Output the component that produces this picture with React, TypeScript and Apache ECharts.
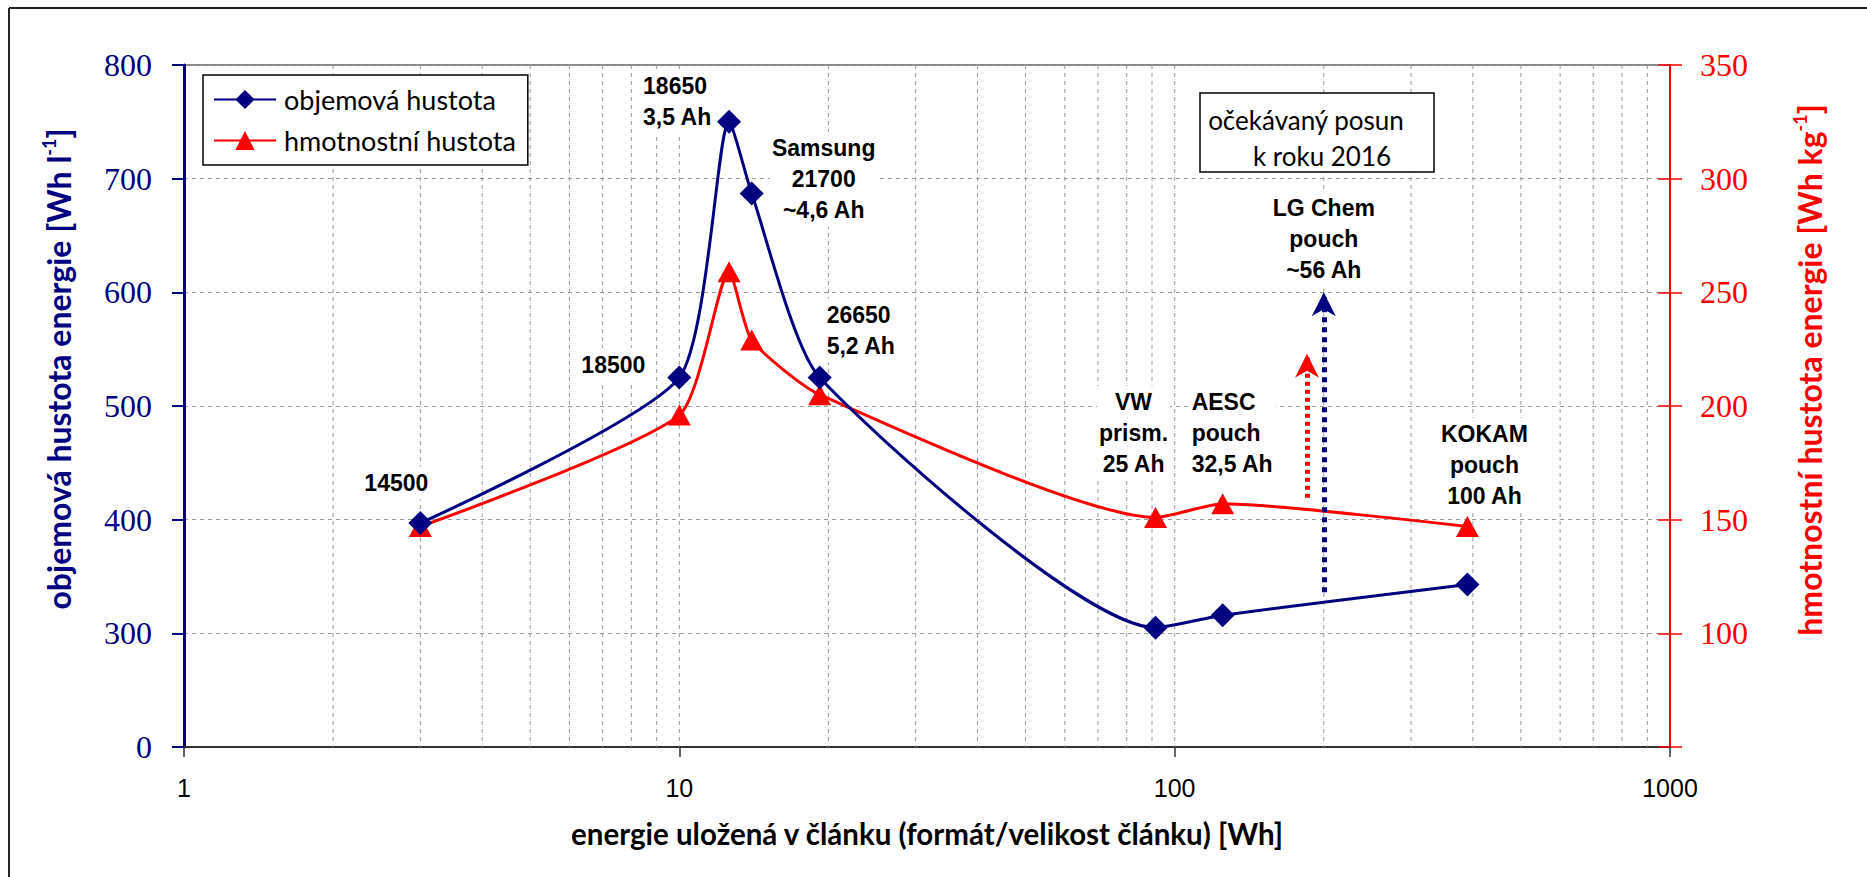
import React, { useEffect, useRef } from "react";
import * as echarts from "echarts";

// ---- data ----
const cellEnergyWh = [3, 10, 12.6, 14, 19.2, 91.5, 125, 390];
const volumetricWhL = [397, 525, 750, 687, 525, 305, 316, 343];
const gravimetricWhKg = [147, 196, 259, 229, 205, 151, 157, 147];
const cellNames = [
  "14500",
  "18500",
  "18650\n3,5 Ah",
  "Samsung\n21700\n~4,6 Ah",
  "26650\n5,2 Ah",
  "VW\nprism.\n25 Ah",
  "AESC\npouch\n32,5 Ah",
  "KOKAM\npouch\n100 Ah",
];
const seriesNames = ["objemová hustota", "hmotnostní hustota"];
const xTickLabels = [1, 10, 100, 1000];
const leftAxisRange = [200, 800]; // broken axis: bottom tick shown as "0"
const leftBreakLabel = "0";
const rightAxisRange = [50, 350];
const verticalGridX = [
  2, 3, 4, 5, 6, 7, 8, 9, 10, 20, 30, 40, 50, 60, 70, 80, 90, 100, 200, 300,
  400, 500, 600, 700, 800, 900,
];
const lgChemArrow = { x: 200, from: 336, to: 600, label: "LG Chem\npouch\n~56 Ah" };
const redArrow = { x: 185, from: 158, to: 223 };
const boxLines = ["očekávaný posun", "k roku 2016"];
const xTitle = "energie uložená v článku (formát/velikost článku) [Wh]";
const leftTitle = ["objemová hustota energie [Wh l", "-1", "]"];
const rightTitle = ["hmotnostní hustota energie [Wh kg", "-1", "]"];

// ---- styling ----
const NAVY = "#000080";
const RED = "#ff0000";
const ARROW_HEAD = "path://M12 0 L24 24 L12 17 L0 24 Z";
// per-point label placement: [dx, dy, align, series]
const labelPlacement: [number, number, string, "blue" | "red"][] = [
  [-24, -40, "center", "blue"],
  [-66, -13, "center", "blue"],
  [-88, -20, "left", "blue"],
  [72, -14, "center", "blue"],
  [5, -47, "left", "blue"],
  [-22, -84, "center", "red"],
  [-33, -71, "left", "red"],
  [17, -61, "center", "red"],
];
const labelFont = {
  color: "#000",
  fontFamily: "Liberation Sans",
  fontWeight: "bold" as const,
  fontSize: 23,
  lineHeight: 31,
  backgroundColor: "#fff",
  padding: [1, 2],
};

const titleRich = (fill: string) => ({
  a: { fontFamily: "Lato", fontWeight: "bold", fontSize: 32, fill, lineHeight: 34, verticalAlign: "bottom" },
  s: { fontFamily: "Lato", fontWeight: "bold", fontSize: 18, fill, lineHeight: 34, verticalAlign: "top" },
});

export default function App() {
  const ref = useRef<HTMLDivElement>(null);
  useEffect(() => {
    document.body.style.margin = "0";
    document.body.style.overflow = "hidden";
    const chart = echarts.init(ref.current!, null, { renderer: "svg" });

    const mkData = (vals: number[], which: "blue" | "red") =>
      cellEnergyWh.map((x, i) => {
        const p = labelPlacement[i];
        const item: any = { value: [x, vals[i]] };
        if (p[3] === which) {
          item.label = {
            show: true,
            position: "inside",
            offset: [p[0], p[1]],
            align: p[2],
            verticalAlign: "middle",
            formatter: cellNames[i],
            ...labelFont,
          };
        }
        return item;
      });

    const arrowParts = (
      a: { x: number; from: number; to: number },
      color: string,
      dash: number[],
      label?: string
    ) => ({
      markLine: {
        silent: true,
        symbol: ["none", "none"],
        lineStyle: { color, width: 5, type: dash, dashOffset: dash[0], cap: "butt" },
        label: { show: false },
        data: [[{ coord: [a.x, a.to] }, { coord: [a.x, a.from] }]],
      },
      markPoint: {
        silent: true,
        symbol: ARROW_HEAD,
        symbolSize: [24, 24],
        symbolOffset: [0, 12],
        itemStyle: { color },
        label: label
          ? { show: true, position: "top", distance: 6, formatter: label, ...labelFont }
          : { show: false },
        data: [{ coord: [a.x, a.to] }],
      },
    });

    const option: any = {
      animation: false,
      backgroundColor: "#fff",
      grid: {
        left: 184,
        top: 65,
        width: 1486,
        height: 682,
        show: true,
        borderColor: "#8a8a8a",
        borderWidth: 2,
        backgroundColor: "transparent",
      },
      legend: {
        data: seriesNames,
        orient: "vertical",
        left: 203,
        top: 75,
        padding: [11, 12, 11, 10],
        itemGap: 14,
        itemWidth: 62,
        itemHeight: 24,
        borderColor: "#000",
        borderWidth: 1.5,
        backgroundColor: "#fff",
        textStyle: { fontFamily: "Lato", fontSize: 27, color: "#000", padding: [0, 0, 0, 3] },
      },
      xAxis: {
        type: "log",
        logBase: 10,
        min: xTickLabels[0],
        max: xTickLabels[xTickLabels.length - 1],
        axisLine: { lineStyle: { color: "#333", width: 2 } },
        axisTick: { show: true, length: 10, lineStyle: { color: "#333", width: 1.5 } },
        axisLabel: {
          margin: 28,
          fontFamily: "Liberation Sans",
          fontSize: 25,
          color: "#000",
          formatter: (v: number) => String(v),
        },
        splitLine: { show: false },
        minorTick: { show: false },
      },
      yAxis: [
        {
          type: "value",
          min: leftAxisRange[0],
          max: leftAxisRange[1],
          interval: 100,
          position: "left",
          axisLine: { show: true, lineStyle: { color: NAVY, width: 3 } },
          axisTick: { show: true, length: 12, lineStyle: { color: NAVY, width: 2 } },
          axisLabel: {
            margin: 32,
            fontFamily: "Liberation Serif",
            fontSize: 32,
            color: NAVY,
            formatter: (v: number) => (v === leftAxisRange[0] ? leftBreakLabel : String(v)),
          },
          splitLine: { show: true, lineStyle: { color: "#9a9a9a", type: [4, 4], width: 1 } },
        },
        {
          type: "value",
          min: rightAxisRange[0],
          max: rightAxisRange[1],
          interval: 50,
          position: "right",
          axisLine: { show: true, lineStyle: { color: RED, width: 2 } },
          axisTick: { show: true, length: 12, lineStyle: { color: RED, width: 1.5 } },
          axisLabel: {
            margin: 30,
            fontFamily: "Liberation Serif",
            fontSize: 32,
            color: RED,
            formatter: (v: number) => (v === rightAxisRange[0] ? "" : String(v)),
          },
          splitLine: { show: false },
        },
        {
          type: "value",
          min: rightAxisRange[0],
          max: rightAxisRange[1],
          interval: 50,
          position: "right",
          axisLine: { show: false },
          axisTick: { show: true, inside: true, length: 12, lineStyle: { color: RED, width: 1.5 } },
          axisLabel: { show: false },
          splitLine: { show: false },
        },
      ],
      series: [
        {
          type: "custom",
          name: "grid-x",
          z: 1,
          silent: true,
          xAxisIndex: 0,
          yAxisIndex: 0,
          data: verticalGridX.map((v) => [v, 500]),
          renderItem: (_p: any, api: any) => {
            const x = api.value(0);
            const a = api.coord([x, leftAxisRange[1]]);
            const b = api.coord([x, leftAxisRange[0]]);
            return {
              type: "line",
              shape: { x1: a[0], y1: a[1], x2: b[0], y2: b[1] },
              style: { stroke: "#9a9a9a", lineWidth: 1, lineDash: [4, 4] },
            };
          },
        },
        {
          type: "line",
          name: seriesNames[0],
          yAxisIndex: 0,
          z: 4,
          smooth: 0.2,
          symbol: "diamond",
          symbolSize: 24,
          lineStyle: { color: NAVY, width: 3 },
          itemStyle: { color: NAVY },
          emphasis: { disabled: true },
          data: mkData(volumetricWhL, "blue"),
          ...arrowParts(lgChemArrow, NAVY, [5, 5], lgChemArrow.label),
        },
        {
          type: "line",
          name: seriesNames[1],
          yAxisIndex: 1,
          z: 3,
          smooth: 0.2,
          symbol: "triangle",
          symbolSize: [23, 21],
          lineStyle: { color: RED, width: 3 },
          itemStyle: { color: RED },
          emphasis: { disabled: true },
          data: mkData(gravimetricWhKg, "red"),
          ...arrowParts(redArrow, RED, [4, 4]),
        },
      ],
      graphic: [
        { type: "line", shape: { x1: 9, y1: 8, x2: 1867, y2: 8 }, style: { stroke: "#222", lineWidth: 2 } },
        { type: "line", shape: { x1: 9, y1: 8, x2: 9, y2: 877 }, style: { stroke: "#222", lineWidth: 2 } },
        {
          type: "rect",
          shape: { x: 1200, y: 93, width: 234, height: 79 },
          style: { fill: "#fff", stroke: "#000", lineWidth: 1.5 },
          z: 10,
        },
        {
          type: "text",
          x: 1306,
          y: 120,
          z: 11,
          style: {
            text: boxLines[0],
            fontFamily: "Lato",
            fontSize: 26,
            fill: "#000",
            textAlign: "center",
            textVerticalAlign: "middle",
          },
        },
        {
          type: "text",
          x: 1322,
          y: 156,
          z: 11,
          style: {
            text: boxLines[1],
            fontFamily: "Lato",
            fontSize: 26,
            fill: "#000",
            textAlign: "center",
            textVerticalAlign: "middle",
          },
        },
        {
          type: "text",
          x: 57,
          y: 369,
          rotation: Math.PI / 2,
          style: {
            text: `{a|${leftTitle[0]}}{s|${leftTitle[1]}}{a|${leftTitle[2]}}`,
            textAlign: "center",
            textVerticalAlign: "middle",
            rich: titleRich(NAVY),
          },
        },
        {
          type: "text",
          x: 1808,
          y: 370,
          rotation: Math.PI / 2,
          style: {
            text: `{a|${rightTitle[0]}}{s|${rightTitle[1]}}{a|${rightTitle[2]}}`,
            textAlign: "center",
            textVerticalAlign: "middle",
            rich: titleRich(RED),
          },
        },
        {
          type: "text",
          x: 927,
          y: 833,
          style: {
            text: xTitle,
            fontFamily: "Lato",
            fontWeight: "bold",
            fontSize: 29.5,
            fill: "#000",
            textAlign: "center",
            textVerticalAlign: "middle",
          },
        },
      ],
    };
    chart.setOption(option);
    return () => chart.dispose();
  }, []);
  return (
    <div
      ref={ref}
      style={{ position: "absolute", left: 0, top: 0, width: "1867px", height: "877px" }}
    />
  );
}
